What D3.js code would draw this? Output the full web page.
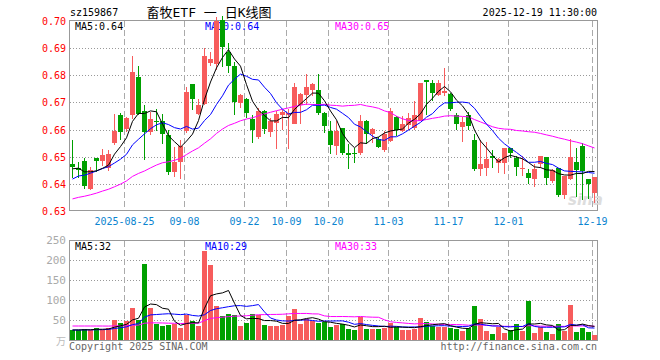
<!DOCTYPE html>
<html>
<head>
<meta charset="utf-8">
<script src="https://cdn.jsdelivr.net/npm/d3@7"></script>
<style>
body { margin: 0; background: #fff; }
text { font-family: "DejaVu Sans Mono", monospace; font-size: 10px; }
</style>
</head>
<body>
<div id="chart"></div>
<script>
var dates = ["08-12","08-13","08-14","08-15","08-18","08-19","08-20","08-21","08-22",
  "08-25","08-26","08-27","08-28","08-29","09-01","09-02","09-03","09-04","09-05",
  "09-08","09-09","09-10","09-11","09-12","09-15","09-16","09-17","09-18","09-19",
  "09-22","09-23","09-24","09-25","09-26","09-29","09-30","10-09","10-10",
  "10-13","10-14","10-15","10-16","10-17","10-20","10-21","10-22","10-23","10-24",
  "10-27","10-28","10-29","10-30","10-31","11-03","11-04","11-05","11-06","11-07",
  "11-10","11-11","11-12","11-13","11-14","11-17","11-18","11-19","11-20","11-21",
  "11-24","11-25","11-26","11-27","11-28","12-01","12-02","12-03","12-04","12-05",
  "12-08","12-09","12-10","12-11","12-12","12-15","12-16","12-17","12-18","12-19"];

var openPrice = [.6472,.6458,.6484,.6380,.6495,.6484,.6459,.6551,.6652,
  .6603,.6652,.6792,.6670,.6591,.6632,.6630,.6579,.6442,.6481,
  .6593,.6768,.6658,.6695,.6847,.6840,.7005,.6884,.6835,.6699,
  .6711,.6640,.6573,.6670,.6591,.6625,.6652,.6655,.6621,
  .6692,.6727,.6745,.6745,.6661,.6594,.6541,.6604,.6513,.6512,
  .6514,.6633,.6582,.6564,.6523,.6559,.6645,.6594,.6618,.6606,
  .6633,.6781,.6771,.6728,.6734,.6731,.6655,.6608,.6655,.6563,
  .6456,.6460,.6502,.6478,.6478,.6533,.6496,.6456,.6441,.6417,
  .6472,.6499,.6411,.6458,.6359,.6417,.6480,.6541,.6417,.6365];
var highPrice = [.6563,.6482,.6494,.6462,.6497,.6527,.6523,.6658,.6660,
  .6648,.6872,.6835,.6689,.6665,.6675,.6658,.6600,.6535,.6561,
  .6757,.6768,.6713,.6902,.6884,.7015,.7020,.6918,.6848,.6730,
  .6716,.6652,.6678,.6672,.6643,.6668,.6672,.6675,.6772,
  .6735,.6805,.6772,.6805,.6665,.6631,.6631,.6606,.6547,.6533,
  .6655,.6636,.6606,.6572,.6594,.6679,.6650,.6651,.6661,.6705,
  .6772,.6781,.6784,.6784,.6827,.6735,.6660,.6645,.6665,.6582,
  .6563,.6554,.6524,.6496,.6533,.6533,.6502,.6502,.6454,.6472,
  .6502,.6499,.6455,.6460,.6430,.6565,.6532,.6551,.6417,.6427];
var lowPrice = [.6423,.6422,.6380,.6377,.6443,.6465,.6447,.6545,.6560,
  .6590,.6640,.6655,.6487,.6580,.6595,.6548,.6432,.6427,.6417,
  .6588,.6673,.6652,.6690,.6835,.6820,.6830,.6808,.6652,.6680,
  .6641,.6549,.6567,.6582,.6573,.6530,.6600,.6527,.6620,
  .6620,.6690,.6723,.6655,.6588,.6510,.6505,.6505,.6456,.6478,
  .6508,.6546,.6552,.6531,.6519,.6555,.6575,.6590,.6600,.6600,
  .6630,.6655,.6706,.6722,.6722,.6668,.6600,.6555,.6600,.6448,
  .6429,.6429,.6460,.6441,.6435,.6496,.6429,.6429,.6399,.6390,
  .6460,.6396,.6405,.6353,.6343,.6415,.6353,.6341,.6343,.6328];
var closePrice = [.6462,.6452,.6392,.6451,.6483,.6508,.6511,.6594,.6591,
  .6644,.6811,.6658,.6591,.6640,.6628,.6585,.6442,.6481,.6540,
  .6740,.6713,.6691,.6872,.6860,.7000,.6905,.6835,.6700,.6728,
  .6660,.6600,.6668,.6603,.6630,.6658,.6666,.6662,.6756,
  .6731,.6756,.6767,.6661,.6615,.6543,.6594,.6514,.6505,.6510,
  .6633,.6582,.6603,.6535,.6584,.6670,.6600,.6621,.6643,.6655,
  .6771,.6774,.6734,.6771,.6743,.6674,.6620,.6628,.6615,.6454,
  .6472,.6493,.6494,.6490,.6533,.6515,.6463,.6460,.6421,.6454,
  .6502,.6421,.6452,.6359,.6430,.6499,.6452,.6449,.6400,.6427];
// volume in 万
var volume = [25,25,28,25,31,25,29,50,43,
  48,81,50,190,81,40,36,38,39,31,
  62,47,35,222,187,85,60,65,62,35,
  43,65,62,38,35,35,38,61,78,
  40,52,48,43,46,33,38,39,28,25,
  58,28,28,28,31,43,33,25,25,28,
  56,46,36,33,33,31,28,22,29,85,
  52,22,15,33,17,25,39,22,97,17,
  33,20,15,39,22,87,20,31,20,12];

// sessions before 08-12, only used to start the moving averages
var prevClose = [.628,.627,.629,.630,.628,.631,.632,.630,.629,.631,.633,.632,.630,.631,.633,
  .634,.632,.631,.633,.632,.634,.636,.638,.640,.642,.644,.646,.645,.6465];
var prevVolume = [26,28,25,30,27,32,35,38,40,42,45,48,50,46,44,52,48,50,47,47,
  26,24,25,27,23,24,26,25,25];

var tickDates = ["08-25","09-08","09-22","10-09","10-20","11-03","11-17","12-01","12-19"];
var tickLabels = ["2025-08-25","09-08","09-22","10-09","10-20","11-03","11-17","12-01","12-19"];
var priceTicks = [0.63,0.64,0.65,0.66,0.67,0.68,0.69,0.70];
var volTicks = [50,100,150,200,250];

var red = "#f75c5c", green = "#00a000";

var svg = d3.select("#chart").append("svg")
    .attr("width", 660)
    .attr("height", 360);

var x = d3.scaleBand()
    .domain(dates)
    .range([69.5, 597.5])
    .paddingInner(1/6)
    .paddingOuter(1/12);

var yP = d3.scaleLinear().domain([0.63, 0.70]).range([211, 21]);
var yV = d3.scaleLinear().domain([0, 250]).range([340, 240]);

var bars = dates.map(function(d, i) {
  return {date: d, o: openPrice[i], h: highPrice[i], l: lowPrice[i], c: closePrice[i], v: volume[i]};
});

function movingAvg(prev, values, k) {
  var all = prev.concat(values);
  return values.map(function(v, i) {
    var end = i + prev.length + 1;
    return d3.mean(all.slice(end - k, end));
  });
}

function cx(d) { return x(d) + 2.5; }

// ---- grids
var grid = svg.append("g").attr("shape-rendering", "crispEdges");

grid.selectAll(".hp")
    .data(priceTicks.slice(1, -1))
  .enter().append("line")
    .attr("x1", 70).attr("x2", 597)
    .attr("y1", function(d) { return Math.round(yP(d)) + 0.5; })
    .attr("y2", function(d) { return Math.round(yP(d)) + 0.5; })
    .attr("stroke", "#999")
    .attr("stroke-dasharray", "1,2");

grid.selectAll(".hv")
    .data(volTicks.slice(0, -1))
  .enter().append("line")
    .attr("x1", 70).attr("x2", 597)
    .attr("y1", function(d) { return Math.round(yV(d)) + 0.5; })
    .attr("y2", function(d) { return Math.round(yV(d)) + 0.5; })
    .attr("stroke", "#999")
    .attr("stroke-dasharray", "1,2");

tickDates.forEach(function(d) {
  grid.append("line")
      .attr("x1", x(d) + 0.5).attr("x2", x(d) + 0.5)
      .attr("y1", 21).attr("y2", 210)
      .attr("stroke", "#aaa")
      .attr("stroke-dasharray", "6,3");
  grid.append("line")
      .attr("x1", x(d) + 0.5).attr("x2", x(d) + 0.5)
      .attr("y1", 241).attr("y2", 340)
      .attr("stroke", "#aaa")
      .attr("stroke-dasharray", "6,3");
});

// ---- frames
svg.append("rect")
    .attr("x", 69.5).attr("y", 20.5).attr("width", 528).attr("height", 190)
    .attr("fill", "none").attr("stroke", "#999").attr("shape-rendering", "crispEdges");
svg.append("rect")
    .attr("x", 69.5).attr("y", 240.5).attr("width", 528).attr("height", 100)
    .attr("fill", "none").attr("stroke", "#999").attr("shape-rendering", "crispEdges");

// ---- axis labels
svg.selectAll(".pl")
    .data(priceTicks)
  .enter().append("text")
    .attr("x", 66)
    .attr("y", function(d) { return yP(d) + 4; })
    .attr("text-anchor", "end")
    .attr("fill", "#f00")
    .text(function(d) { return d.toFixed(2); });

svg.selectAll(".vl")
    .data(volTicks)
  .enter().append("text")
    .attr("x", 66)
    .attr("y", function(d) { return yV(d) + 4; })
    .attr("text-anchor", "end")
    .attr("fill", "#aaa")
    .style("font-size", "11px")
    .text(function(d) { return d; });

svg.append("text")
    .attr("x", 66).attr("y", 345)
    .attr("text-anchor", "end")
    .attr("fill", "#bbb")
    .style("font-family", "'Noto Sans CJK SC'")
    .text("万");

svg.selectAll(".xl")
    .data(tickDates)
  .enter().append("text")
    .attr("x", function(d) { return x(d) + 0.5; })
    .attr("y", 225)
    .attr("text-anchor", "middle")
    .attr("fill", "#0b84d0")
    .text(function(d, i) { return tickLabels[i]; });

// ---- header
svg.append("text").attr("x", 70).attr("y", 16).text("sz159867");
svg.append("text")
    .attr("x", 209).attr("y", 17)
    .attr("text-anchor", "middle")
    .style("font-family", "'DejaVu Sans Mono', 'Noto Sans CJK SC'")
    .style("font-size", "13px")
    .text("畜牧ETF 一 日K线图");
svg.append("text").attr("x", 597).attr("y", 16).attr("text-anchor", "end").text("2025-12-19 11:30:00");

svg.append("text").attr("x", 75).attr("y", 30).attr("fill", "#000").text("MA5:0.64");
svg.append("text").attr("x", 205).attr("y", 30).attr("fill", "#00f").text("MA10:0.64");
svg.append("text").attr("x", 335).attr("y", 30).attr("fill", "#f0f").text("MA30:0.65");

svg.append("text").attr("x", 75).attr("y", 250).attr("fill", "#000").text("MA5:32");
svg.append("text").attr("x", 205).attr("y", 250).attr("fill", "#00f").text("MA10:29");
svg.append("text").attr("x", 335).attr("y", 250).attr("fill", "#f0f").text("MA30:33");

svg.append("text").attr("x", 69).attr("y", 350).attr("fill", "#666").text("Copyright 2025 SINA.COM");
svg.append("text").attr("x", 597).attr("y", 350).attr("text-anchor", "end").attr("fill", "#666").text("http://finance.sina.com.cn");

// watermark
svg.append("text")
    .attr("x", 568).attr("y", 205)
    .attr("fill", "#ddd")
    .style("font-family", "'DejaVu Sans'")
    .style("font-size", "15px")
    .style("font-weight", "bold")
    .style("font-style", "italic")
    .text("sina");

// ---- candles
var candle = svg.selectAll(".candle")
    .data(bars)
  .enter().append("g")
    .attr("class", "candle")
    .attr("shape-rendering", "crispEdges");

candle.append("line")
    .attr("x1", function(d) { return cx(d.date); })
    .attr("x2", function(d) { return cx(d.date); })
    .attr("y1", function(d) { return Math.round(yP(d.h)); })
    .attr("y2", function(d) { return Math.round(yP(d.l)); })
    .attr("stroke", function(d) { return d.c >= d.o ? red : green; });

candle.append("rect")
    .attr("x", function(d) { return x(d.date); })
    .attr("width", x.bandwidth())
    .attr("y", function(d) { return Math.round(yP(Math.max(d.o, d.c))); })
    .attr("height", function(d) {
      return Math.max(1, Math.round(yP(Math.min(d.o, d.c))) - Math.round(yP(Math.max(d.o, d.c))));
    })
    .attr("fill", function(d) { return d.c >= d.o ? red : green; });

// ---- volume bars
svg.selectAll(".vol")
    .data(bars)
  .enter().append("rect")
    .attr("class", "vol")
    .attr("shape-rendering", "crispEdges")
    .attr("x", function(d) { return x(d.date); })
    .attr("width", x.bandwidth())
    .attr("y", function(d) { return Math.round(yV(d.v)); })
    .attr("height", function(d) { return 340 - Math.round(yV(d.v)); })
    .attr("fill", function(d) { return d.c >= d.o ? red : green; });

// ---- moving averages
var maColors = {5: "#000", 10: "#00f", 30: "#f0f"};

[30, 10, 5].forEach(function(k) {
  var pm = movingAvg(prevClose, closePrice, k);
  var vm = movingAvg(prevVolume, volume, k);

  svg.append("path")
      .datum(pm)
      .attr("fill", "none")
      .attr("stroke", maColors[k])
      .attr("stroke-width", 1)
      .attr("d", d3.line()
        .x(function(d, i) { return cx(dates[i]); })
        .y(function(d) { return yP(d); }));

  svg.append("path")
      .datum(vm)
      .attr("fill", "none")
      .attr("stroke", maColors[k])
      .attr("stroke-width", 1)
      .attr("d", d3.line()
        .x(function(d, i) { return cx(dates[i]); })
        .y(function(d) { return yV(d); }));
});
</script>
</body>
</html>
